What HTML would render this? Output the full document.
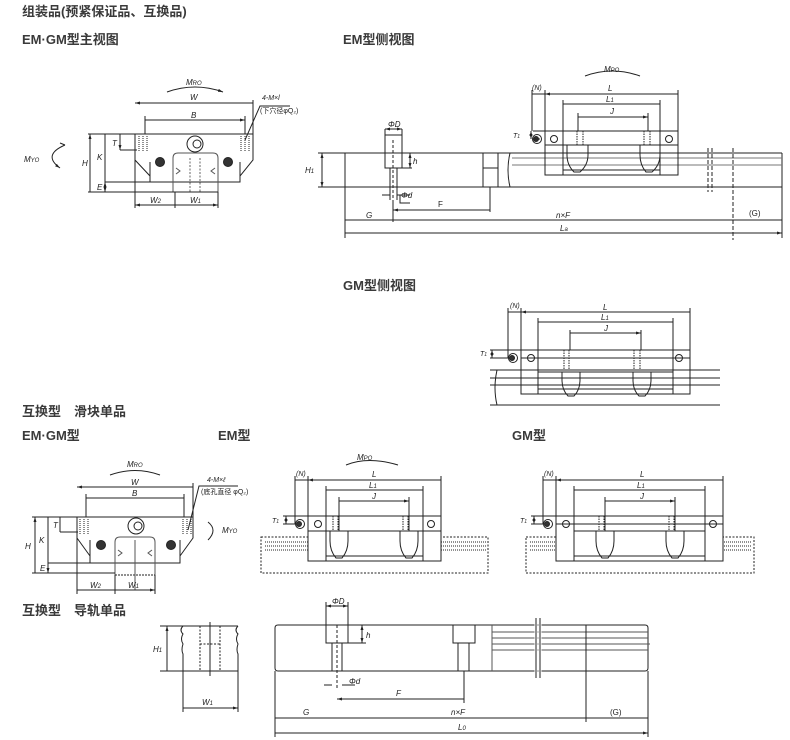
<!DOCTYPE html>
<html><head><meta charset="utf-8"><style>
html,body{margin:0;padding:0;background:#fff;}
svg{display:block}
.t{font-family:"Liberation Sans","Noto Sans CJK SC",sans-serif;fill:#222}
.h{font-size:13px;font-weight:bold;fill:#3a3a3a}
.l{font-size:8px;font-style:italic}
</style></head><body>
<svg width="790" height="740" viewBox="0 0 790 740" xmlns="http://www.w3.org/2000/svg">
<defs>
<marker id="a" viewBox="0 0 10 10" refX="10" refY="5" markerWidth="5" markerHeight="5" orient="auto-start-reverse"><path d="M0,2 L10,5 L0,8z" fill="#222"/></marker>
</defs>
<g class="t h">
<text x="22" y="16">组装品(预紧保证品、互换品)</text>
<text x="22" y="44">EM·GM型主视图</text>
<text x="343" y="44">EM型侧视图</text>
<text x="343" y="290">GM型侧视图</text>
<text x="22" y="416">互换型　滑块单品</text>
<text x="22" y="440">EM·GM型</text>
<text x="218" y="440">EM型</text>
<text x="512" y="440">GM型</text>
<text x="22" y="615">互换型　导轨单品</text>
</g>

<g fill="none" stroke="#222" stroke-width="1">
<!-- ===== Front view 1 ===== -->
<path d="M135,134 H253 V160 L240,176 V182 H150 V176 L135,160 Z"/>
<path d="M150,176 V162 M240,176 V162"/>
<path d="M173,192 V158 Q173,153 178,153 H213 Q218,153 218,158 V192 Z" stroke="#555"/>
<path d="M176,168 l4,3 l-4,3 M215,168 l-4,3 l4,3" stroke="#555"/>
<path d="M190,158 V192 M200,158 V192" stroke-dasharray="2,1.5" stroke="#666"/>
<circle cx="195" cy="144" r="8"/><circle cx="197" cy="144" r="4"/>
<circle cx="160" cy="162" r="4.5" fill="#333"/><circle cx="228" cy="162" r="4.5" fill="#333"/>
<path d="M139,136 V152 M143,136 V152 M147,136 V152 M241,136 V152 M245,136 V152 M249,136 V152" stroke-dasharray="1,1"/>
<path d="M135,134 H88 M120,150 H137 M105,182 H150 M88,192 H218"/>
<path d="M90,134 V192 M105,134 V182 M120,134 V150" marker-start="url(#a)" marker-end="url(#a)"/>
<path d="M135,134 V208 M253,134 V100 M145,134 V116 M245,134 V116 M175,192 V208 M218,192 V208"/>
<path d="M135,103 H253 M145,120 H245" marker-start="url(#a)" marker-end="url(#a)"/>
<path d="M135,205 H175 M175,205 H218" marker-start="url(#a)" marker-end="url(#a)"/>
<path d="M105,182 V192" marker-start="url(#a)" marker-end="url(#a)"/>
<path d="M167,92 Q195,82 223,92" marker-end="url(#a)"/>
<path d="M65,145 Q42,155 60,168" marker-end="url(#a)"/><path d="M60,143 l5,2"/>
<path d="M245,140 L260,106 H290"/>
<!-- ===== EM side view top ===== -->
<path d="M345,153 H782 M345,187 H782 M345,153 V187 M782,153 V187"/>
<path d="M510,153 Q506,170 510,187"/>
<path d="M512,158 H782 M512,165 H782" stroke="#777"/>
<path d="M385,135 H402 V168 H385 Z M390,168 V200 M397,168 V200"/>
<path d="M393,140 V200" stroke-dasharray="3,2"/>
<path d="M483,153 V187 M498,153 V187 M483,168 H498"/>
<path d="M545,131 H678 V175 H545 Z M563,131 V175 M660,131 V175 M545,145 H678 M563,170 H660"/>
<path d="M567,145 V155 Q567,165 574,172 H580 Q588,165 588,155 V145 M640,145 V155 Q640,165 646,172 H652 Q660,165 660,155 V145"/>
<path d="M577,131 V145 M583,131 V145 M644,131 V145 M650,131 V145" stroke-dasharray="1.5,1"/>
<circle cx="554" cy="139" r="3.5"/><circle cx="669" cy="139" r="3.5"/>
<circle cx="537" cy="139" r="4.5"/><circle cx="536" cy="139" r="2.5" fill="#333"/>
<path d="M708,148 V192 M712,148 V192 M733,148 V240" stroke-dasharray="4,2"/>
<path d="M533,131 H545 M533,139 H540"/>
<path d="M531,131 V139" marker-start="url(#a)" marker-end="url(#a)"/>
<path d="M545,90 V131 M678,90 V131 M563,100 V131 M660,100 V131 M578,113 V131 M648,113 V131 M532,90 V131"/>
<path d="M545,94 H678 M563,104 H660 M578,117 H648" marker-start="url(#a)" marker-end="url(#a)"/>
<path d="M532,94 H545"/>
<path d="M585,76 Q612,66 640,76"/>
<path d="M385,129 H402" marker-start="url(#a)" marker-end="url(#a)"/>
<path d="M385,129 V135 M402,129 V135"/>
<path d="M402,168 H412"/><path d="M410,153 V168" marker-start="url(#a)" marker-end="url(#a)"/>
<path d="M318,153 H345 M318,187 H345"/><path d="M322,153 V187" marker-start="url(#a)" marker-end="url(#a)"/>
<path d="M382,195 H390 M397,195 H410 M400,195 V203 H410"/>
<path d="M345,187 V238 M782,187 V238 M393,200 V222 M490,187 V212"/>
<path d="M393,210 H490 M345,220 H393 M393,220 H733 M733,220 H782 M345,233 H782" marker-start="url(#a)" marker-end="url(#a)"/>
<!-- ===== GM side view ===== -->
<path d="M490,370 H720 M490,405 H720 M497,370 Q493,388 497,405 M490,378 H720 M490,385 H720" />
<path d="M521,350 H690 V394 H521 Z M538,350 V394 M673,350 V394 M521,358 H690 M538,372 H673 M538,389 H673"/>
<path d="M562,372 V380 Q562,390 568,396 H574 Q580,390 580,380 V372 M633,372 V380 Q633,390 639,396 H645 Q651,390 651,380 V372"/>
<path d="M564,350 V370 M569,350 V370 M634,350 V370 M640,350 V370" stroke-dasharray="1.5,1"/>
<circle cx="531" cy="358" r="3.5"/><circle cx="679" cy="358" r="3.5"/>
<circle cx="513" cy="358" r="4.5"/><circle cx="512" cy="358" r="2.5" fill="#333"/>
<path d="M508,308 V358 M521,308 V350 M690,308 V350 M538,318 V350 M673,318 V350 M570,330 V350 M641,330 V350"/>
<path d="M521,312 H690 M538,322 H673 M570,333 H641" marker-start="url(#a)" marker-end="url(#a)"/>
<path d="M508,312 H521 M490,350 H521 M490,358 H510"/>
<path d="M492,350 V358" marker-start="url(#a)" marker-end="url(#a)"/>
<!-- ===== Front view 2 ===== -->
<path d="M77,517 H193 V538 L180,556 V563 H90 V556 L77,538 Z"/>
<path d="M90,556 V540 M180,556 V540"/>
<path d="M115,575 V542 Q115,537 120,537 H150 Q155,537 155,542 V575" stroke="#555"/>
<path d="M115,575 H155" stroke-dasharray="2,1"/>
<path d="M118,550 l4,3 l-4,3 M152,550 l-4,3 l4,3" stroke="#555"/>
<path d="M135,540 V590" stroke="#555"/>
<circle cx="136" cy="526" r="8"/><circle cx="138" cy="526" r="4"/>
<circle cx="101" cy="545" r="4.5" fill="#333"/><circle cx="171" cy="545" r="4.5" fill="#333"/>
<path d="M80,519 V534 M84,519 V534 M88,519 V534 M183,519 V534 M187,519 V534 M191,519 V534" stroke-dasharray="1,1"/>
<path d="M77,517 H32 M60,532 H78 M48,563 H90 M32,573 H115"/>
<path d="M35,517 V573 M48,517 V563 M60,517 V532 M48,563 V573" marker-start="url(#a)" marker-end="url(#a)"/>
<path d="M77,517 V594 M193,517 V483 M86,517 V494 M184,517 V494 M115,575 V594 M155,575 V594"/>
<path d="M77,487 H193 M86,498 H184 M77,590 H115 M115,590 H155" marker-start="url(#a)" marker-end="url(#a)"/>
<path d="M110,475 Q135,466 160,475"/>
<path d="M188,530 L199,486 H238"/>
<path d="M208,522 Q218,530 208,540"/>
<!-- ===== EM bottom side ===== -->
<path d="M261,537 H488 V573 H261 Z" stroke-dasharray="2,1.5"/>
<path d="M265,542 H486 M265,546 H486 M265,550 H486" stroke-dasharray="1,1"/>
<path d="M308,516 H441 V561 H308 Z M326,516 V561 M423,516 V561 M308,531 H441 M326,556 H423" fill="#fff"/>
<path d="M330,531 V541 Q330,551 336,558 H342 Q348,551 348,541 V531 M400,531 V541 Q400,551 406,558 H412 Q418,551 418,541 V531"/>
<path d="M333,516 V531 M338,516 V531 M403,516 V531 M408,516 V531" stroke-dasharray="1.5,1"/>
<circle cx="318" cy="524" r="3.5"/><circle cx="431" cy="524" r="3.5"/>
<circle cx="300" cy="524" r="4.5"/><circle cx="299" cy="524" r="2.5" fill="#333"/>
<path d="M295,476 V524 M308,476 V516 M441,476 V516 M326,486 V516 M423,486 V516 M339,497 V531 M409,497 V531"/>
<path d="M308,480 H441 M326,490 H423 M339,501 H409" marker-start="url(#a)" marker-end="url(#a)"/>
<path d="M295,480 H308 M283,516 H308 M283,524 H296"/>
<path d="M286,516 V524" marker-start="url(#a)" marker-end="url(#a)"/>
<path d="M346,465 Q368,456 398,465"/>
<!-- ===== GM bottom side ===== -->
<path d="M526,537 H754 V573 H526 Z" stroke-dasharray="2,1.5"/>
<path d="M530,542 H752 M530,546 H752 M530,550 H752" stroke-dasharray="1,1"/>
<path d="M556,516 H723 V561 H556 Z M574,516 V561 M705,516 V561 M556,524 H723 M574,531 H705 M574,556 H705" fill="#fff"/>
<path d="M596,531 V541 Q596,551 602,558 H608 Q614,551 614,541 V531 M666,531 V541 Q666,551 672,558 H678 Q684,551 684,541 V531"/>
<path d="M599,516 V531 M604,516 V531 M669,516 V531 M674,516 V531" stroke-dasharray="1.5,1"/>
<circle cx="566" cy="524" r="3.5"/><circle cx="713" cy="524" r="3.5"/>
<circle cx="548" cy="524" r="4.5"/><circle cx="547" cy="524" r="2.5" fill="#333"/>
<path d="M543,476 V524 M556,476 V516 M723,476 V516 M574,486 V516 M705,486 V516 M605,497 V531 M675,497 V531"/>
<path d="M556,480 H723 M574,490 H705 M605,501 H675" marker-start="url(#a)" marker-end="url(#a)"/>
<path d="M543,480 H556 M531,516 H556 M531,524 H544"/>
<path d="M534,516 V524" marker-start="url(#a)" marker-end="url(#a)"/>
<!-- ===== Rail section ===== -->
<path d="M183,626 H238 M183,671 H238 M183,626 q-4,4 0,8 q-3,5 0,10 q-2,6 0,10 V671 M238,626 q-4,4 0,8 q-3,5 0,10 q-2,6 0,10 V671"/>
<path d="M200,626 V671 M220,626 V671 M200,644 H220" stroke-dasharray="2,1.5"/>
<path d="M210,622 V676"/>
<path d="M160,626 H183 M160,671 H183"/>
<path d="M167,626 V671 M183,708 H238" marker-start="url(#a)" marker-end="url(#a)"/>
<path d="M183,671 V712 M238,671 V712"/>
<!-- ===== long rail ===== -->
<path d="M278,625 H645 Q648,625 648,628 V668 Q648,671 645,671 H278 Q275,671 275,668 V628 Q275,625 278,625 Z"/>
<path d="M326,625 V643 H348 V625 M332,643 V671 M342,643 V671 M453,625 V643 H475 V625 M458,643 V671 M469,643 V671"/>
<path d="M337,625 V690" stroke-dasharray="3,2"/>
<path d="M492,625 V671" stroke="#555"/>
<path d="M492,632 H648 M492,638 H648 M492,644 H650 M492,650 H648" stroke="#555"/>
<path d="M536,620 V676 M540,620 V676" stroke="#fff" stroke-width="3"/>
<path d="M536,618 V678 M540,618 V678"/>
<path d="M586,625 V722"/>
<path d="M326,602 V625 M348,602 V625"/>
<path d="M326,606 H348" marker-start="url(#a)" marker-end="url(#a)"/>
<path d="M348,643 H366"/><path d="M362,625 V643" marker-start="url(#a)" marker-end="url(#a)"/>
<path d="M324,685 H332 M342,685 H355"/>
<path d="M275,671 V737 M648,671 V737 M464,671 V703"/>
<path d="M337,699 H464 M275,718 H337 M337,718 H586 M586,718 H648 M275,733 H648" marker-start="url(#a)" marker-end="url(#a)"/>
</g>

<g class="t l">
<text x="186" y="85">M<tspan font-size="6">RO</tspan></text>
<text x="190" y="100">W</text><text x="191" y="118">B</text>
<text x="262" y="100" font-size="7">4-M×l</text>
<text x="260" y="113" font-size="7" font-style="normal">(下穴径φQ₂)</text>
<text x="24" y="162">M<tspan font-size="6">YO</tspan></text>
<text x="82" y="166">H</text><text x="97" y="160">K</text><text x="112" y="146">T</text><text x="97" y="190">E</text>
<text x="150" y="203">W<tspan font-size="6">2</tspan></text><text x="190" y="203">W<tspan font-size="6">1</tspan></text>
<text x="604" y="72">M<tspan font-size="6">PO</tspan></text>
<text x="532" y="90" font-size="7">(N)</text>
<text x="608" y="91">L</text><text x="606" y="102">L<tspan font-size="6">1</tspan></text><text x="610" y="114">J</text>
<text x="513" y="138" font-size="7">T<tspan font-size="5">1</tspan></text>
<text x="388" y="127">ΦD</text><text x="413" y="164">h</text>
<text x="305" y="173">H<tspan font-size="6">1</tspan></text>
<text x="401" y="198">Φd</text>
<text x="438" y="207" font-style="normal">F</text>
<text x="366" y="218">G</text><text x="556" y="218">n×F</text><text x="749" y="216" font-style="normal">(G)</text>
<text x="560" y="231">L<tspan font-size="6">a</tspan></text>
<text x="510" y="308" font-size="7">(N)</text>
<text x="603" y="310">L</text><text x="601" y="320">L<tspan font-size="6">1</tspan></text><text x="604" y="331">J</text>
<text x="480" y="356" font-size="7">T<tspan font-size="5">1</tspan></text>
<text x="127" y="467">M<tspan font-size="6">RO</tspan></text>
<text x="131" y="485">W</text><text x="132" y="496">B</text>
<text x="207" y="482" font-size="7">4-M×ℓ</text>
<text x="201" y="494" font-size="7" font-style="normal">(底孔直径 φQ₂)</text>
<text x="222" y="533">M<tspan font-size="6">YO</tspan></text>
<text x="25" y="549">H</text><text x="39" y="543">K</text><text x="53" y="528">T</text><text x="40" y="571">E</text>
<text x="90" y="588">W<tspan font-size="6">2</tspan></text><text x="128" y="588">W<tspan font-size="6">1</tspan></text>
<text x="357" y="460">M<tspan font-size="6">PO</tspan></text>
<text x="296" y="476" font-size="7">(N)</text>
<text x="372" y="477">L</text><text x="369" y="488">L<tspan font-size="6">1</tspan></text><text x="372" y="499">J</text>
<text x="272" y="523" font-size="7">T<tspan font-size="5">1</tspan></text>
<text x="544" y="476" font-size="7">(N)</text>
<text x="640" y="477">L</text><text x="637" y="488">L<tspan font-size="6">1</tspan></text><text x="640" y="499">J</text>
<text x="520" y="523" font-size="7">T<tspan font-size="5">1</tspan></text>
<text x="153" y="652">H<tspan font-size="6">1</tspan></text>
<text x="202" y="705">W<tspan font-size="6">1</tspan></text>
<text x="332" y="604">ΦD</text><text x="366" y="638">h</text><text x="349" y="684">Φd</text>
<text x="396" y="696">F</text>
<text x="303" y="715">G</text><text x="451" y="715">n×F</text><text x="610" y="715" font-style="normal">(G)</text>
<text x="458" y="730">L<tspan font-size="6">0</tspan></text>
</g>
</svg>
</body></html>
